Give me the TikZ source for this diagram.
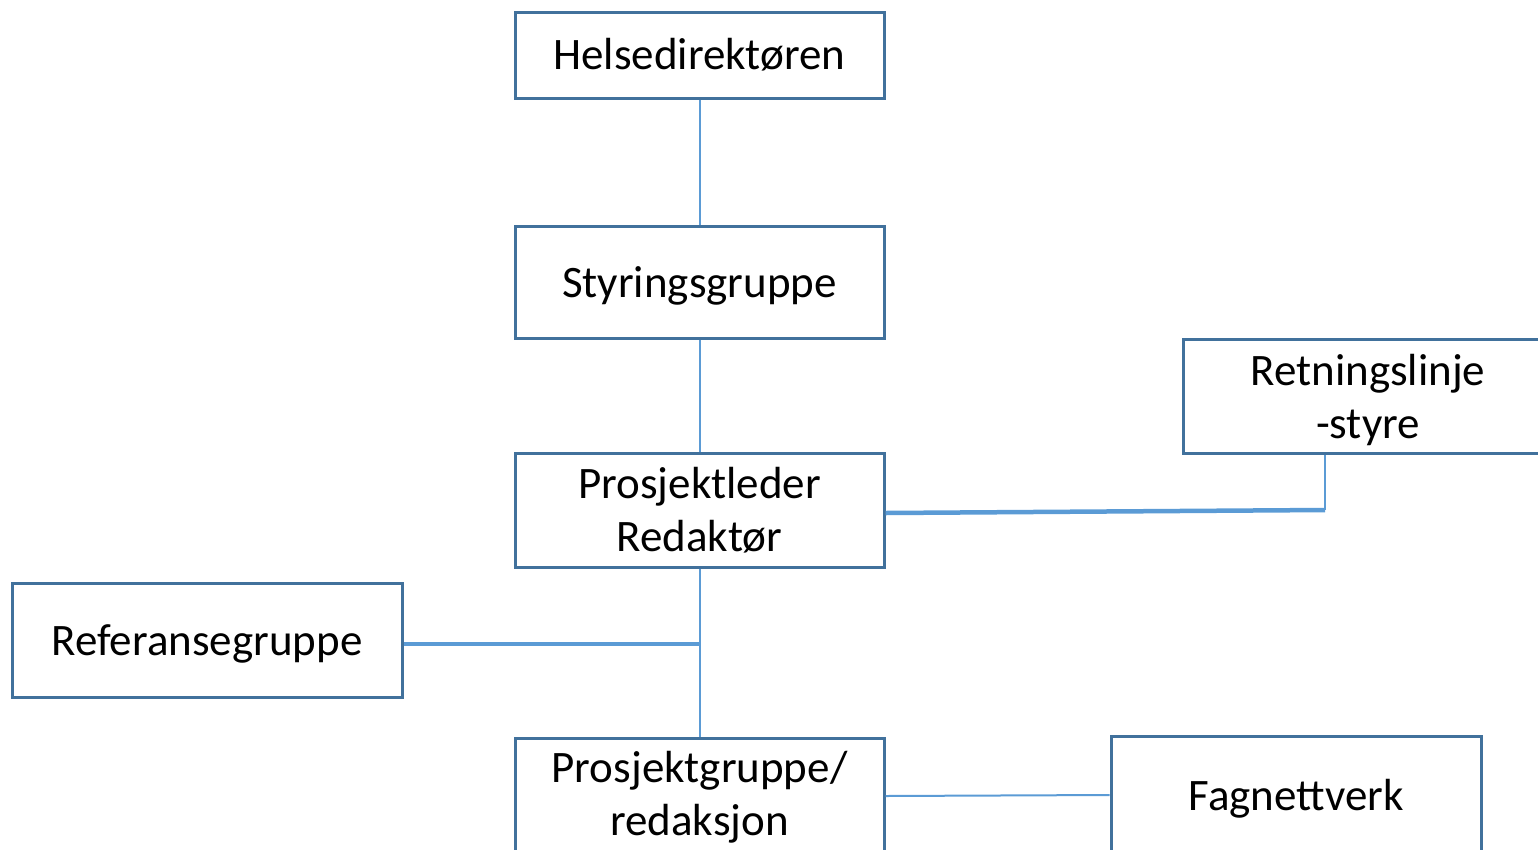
\documentclass[tikz,border=0pt]{standalone}
\usepackage{fontspec}
\setmainfont{Carlito}
\begin{document}
\begin{tikzpicture}[x=1pt,y=-1pt,
  orgbox/.style={draw=boxblue, line width=3pt, fill=white, inner sep=0pt},
  boxtext/.style={font=\fontsize{45}{53}\selectfont, align=center, inner sep=0pt, yshift=-4pt},
  thinlink/.style={draw=linkblue, line width=2pt},
  thicklink/.style={draw=linkblue, line width=4.5pt}]
\definecolor{boxblue}{HTML}{41719C}
\definecolor{linkblue}{HTML}{5B9BD5}
\useasboundingbox (0,0) rectangle (1538,849);
\clip (0,0) rectangle (1538,849);
% boxes, each with its caption centred inside
\node[orgbox, minimum width=369pt, minimum height=86pt,
  label={[boxtext, yshift=4pt, name=hdt]center:Helsedirektøren}] (hd) at (699.5,55) {};
\node[orgbox, minimum width=369pt, minimum height=112pt,
  label={[boxtext, name=sgt]center:Styringsgruppe}] (sg) at (699.5,282) {};
\node[orgbox, minimum width=369pt, minimum height=114pt,
  label={[boxtext, yshift=4pt, name=plt]center:Prosjektleder\\Redaktør}] (pl) at (699.5,510) {};
\node[orgbox, minimum width=370pt, minimum height=114pt,
  label={[boxtext, name=rst]center:Retningslinje\\-styre}] (rs) at (1368,396) {};
\node[orgbox, minimum width=390pt, minimum height=114pt,
  label={[boxtext, name=rgt]center:Referansegruppe}] (rg) at (207,640) {};
\node[orgbox, minimum width=369pt, minimum height=114pt,
  label={[boxtext, yshift=2pt, name=pgt]center:Prosjektgruppe/\\redaksjon}] (pg) at (699.5,795) {};
\node[orgbox, minimum width=370pt, minimum height=118pt,
  label={[boxtext, name=fnt]center:Fagnettverk}] (fn) at (1296,795) {};
% connectors
\coordinate (jr) at (700,644);
\coordinate (kn) at (1325,510);
\draw[thinlink] (hd.south) -- (sg.north);
\draw[thinlink] (sg.south) -- (pl.north);
\draw[thinlink] (pl.south) -- (pg.north);
\draw[thicklink] (rg.east |- jr) -- (jr);
\draw[thicklink] (pl.east |- 0,513) -- (kn);
\draw[thinlink] (kn) -- (kn |- rs.south);
\draw[thinlink] (pg.east |- 0,796) -- (fn.west |- 0,795);
\end{tikzpicture}
\end{document}
